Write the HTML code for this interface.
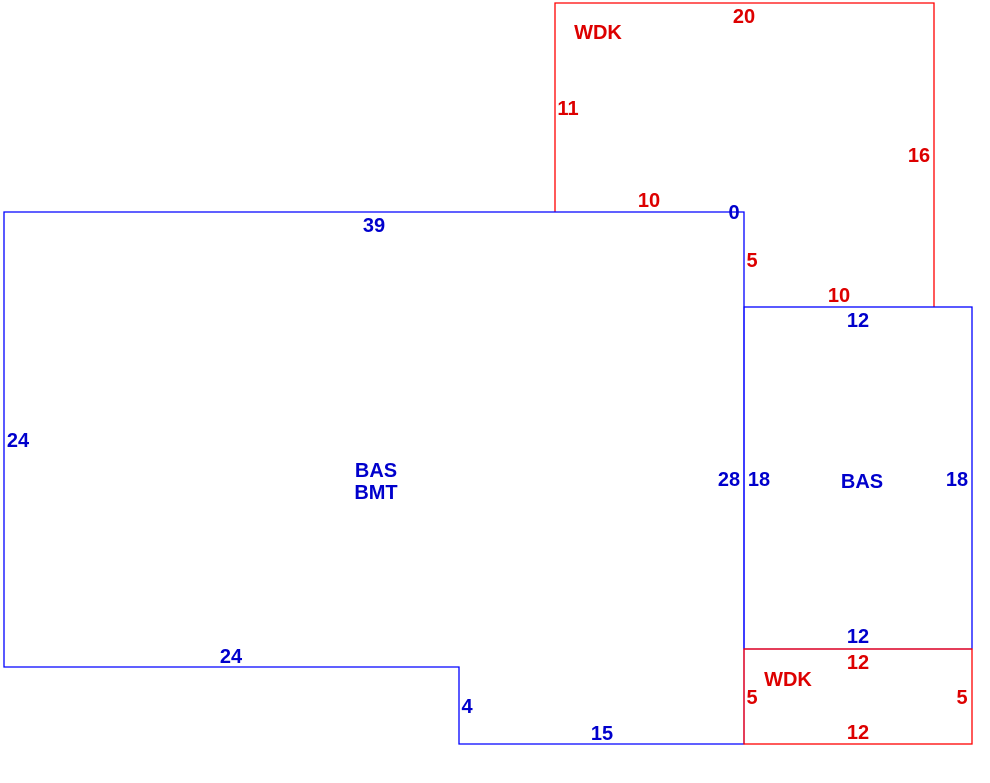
<!DOCTYPE html>
<html><head><meta charset="utf-8"><style>
html,body{margin:0;padding:0;background:#fff;}
svg{display:block;}
text{font-family:"Liberation Sans",sans-serif;font-size:20px;font-weight:bold;text-anchor:middle;}
.b{fill:#0000cc;} .r{fill:#dd0000;}
</style></head><body>
<svg width="990" height="783" viewBox="0 0 990 783">
<g fill="none" stroke-width="1.3">
<polyline stroke="#ff0000" points="555,212 555,3 934,3 934,307"/>
<polygon stroke="#0000ff" points="4,212 744,212 744,744 459,744 459,667 4,667"/>
<rect stroke="#0000ff" x="744" y="307" width="228" height="342"/>
<rect stroke="#ff0000" x="744" y="649" width="228" height="95"/>
</g>
<text class="r" x="598" y="39">WDK</text>
<text class="r" x="744" y="23">20</text>
<text class="r" x="568" y="115">11</text>
<text class="r" x="919" y="162">16</text>
<text class="r" x="649" y="207">10</text>
<text class="b" x="734" y="219">0</text>
<text class="r" x="752" y="267">5</text>
<text class="r" x="839" y="302">10</text>
<text class="b" x="374" y="232">39</text>
<text class="b" x="858" y="327">12</text>
<text class="b" x="18" y="447">24</text>
<text class="b" x="376" y="477">BAS</text>
<text class="b" x="376" y="499">BMT</text>
<text class="b" x="729" y="486">28</text>
<text class="b" x="759" y="486">18</text>
<text class="b" x="862" y="488">BAS</text>
<text class="b" x="957" y="486">18</text>
<text class="b" x="858" y="643">12</text>
<text class="r" x="858" y="669">12</text>
<text class="r" x="788" y="686">WDK</text>
<text class="b" x="231" y="663">24</text>
<text class="b" x="467" y="713">4</text>
<text class="r" x="752" y="704">5</text>
<text class="r" x="962" y="704">5</text>
<text class="b" x="602" y="740">15</text>
<text class="r" x="858" y="739">12</text>
</svg>
</body></html>
